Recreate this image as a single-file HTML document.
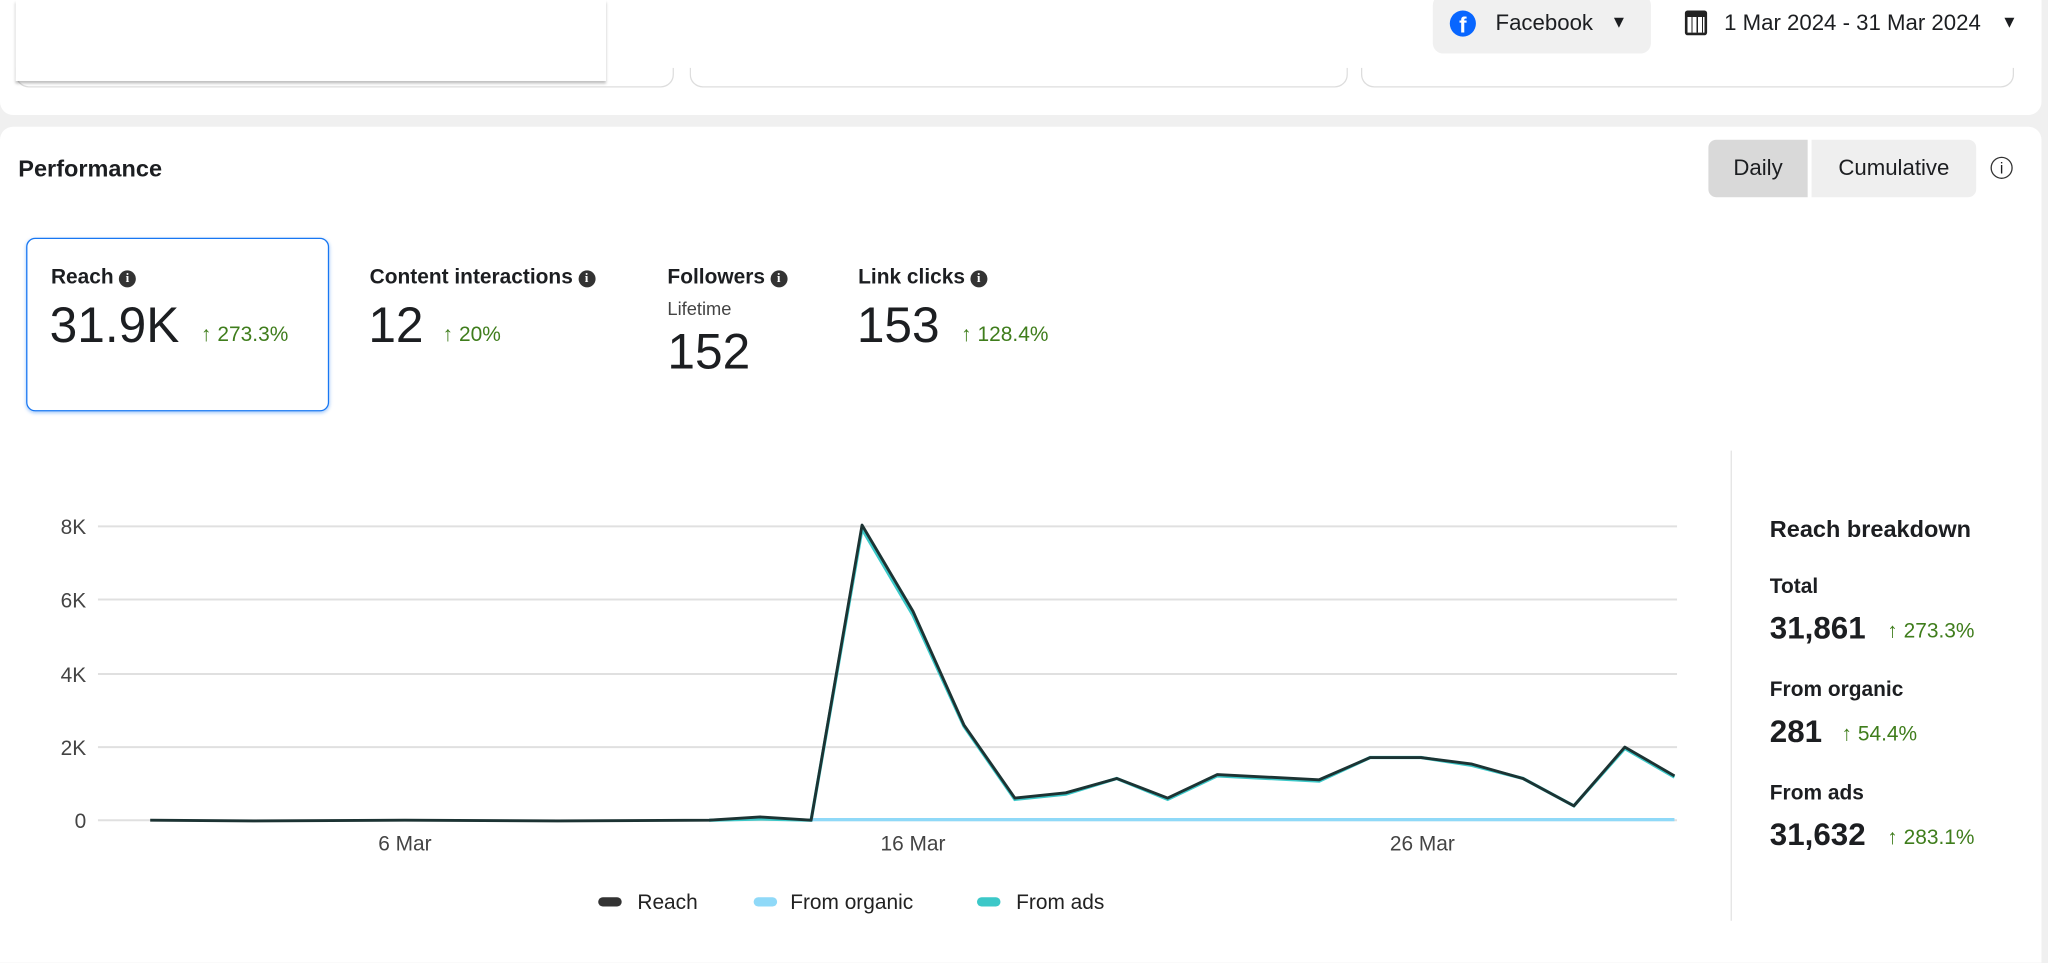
<!DOCTYPE html>
<html><head><meta charset="utf-8"><style>
html,body{margin:0;padding:0;width:2048px;height:935px;overflow:hidden;background:#f0f0f0;}
#w{position:absolute;left:0;top:0;width:1568px;height:716px;transform:scale(1.30612);transform-origin:0 0;font-family:"Liberation Sans",Arial,sans-serif;color:#1c1e21;background:#f0f0f0;}
.a{position:absolute;white-space:nowrap;}
.g{color:#3f7d1c;}
.b{font-weight:bold;}
.i{display:inline-block;width:13px;height:13px;border-radius:50%;background:#333;color:#fff;font-size:10px;line-height:13px;text-align:center;font-weight:bold;vertical-align:1px;margin-left:4px;font-family:"Liberation Serif",serif;}
</style></head><body><div id="w">
<div class="a" style="left:0;top:0;width:1563px;height:88px;background:#fff;border-radius:0 0 10px 10px;"></div>
<div class="a" style="left:12px;top:40px;width:502px;height:26px;border:1px solid #ddd;border-top:none;border-radius:0 0 10px 10px;"></div>
<div class="a" style="left:528px;top:40px;width:502px;height:26px;border:1px solid #ddd;border-top:none;border-radius:0 0 10px 10px;"></div>
<div class="a" style="left:1042px;top:40px;width:498px;height:26px;border:1px solid #ddd;border-top:none;border-radius:0 0 10px 10px;"></div>
<div class="a" style="left:0;top:0;width:1563px;height:52px;background:#fff;"></div>
<div class="a" style="left:12px;top:0;width:452px;height:62px;background:#fff;box-shadow:0 2px 2px rgba(0,0,0,0.25);"></div>
<div class="a" style="left:1097px;top:-4px;width:167px;height:45px;background:#f0f0f0;border-radius:8px;"></div>
<div class="a" style="left:1110px;top:8px;width:20px;height:20px;border-radius:50%;background:#0866ff;color:#fff;font-weight:bold;font-size:17px;line-height:23px;text-align:center;overflow:hidden;">f</div>
<div class="a" style="left:1145px;top:8px;font-size:17px;">Facebook</div>
<div class="a" style="left:1233px;top:9px;font-size:13px;">▼</div>
<div class="a" style="left:1290px;top:8px;width:17px;height:19px;border:2px solid #222;border-radius:2px;box-sizing:border-box;border-top-width:5px;background:repeating-linear-gradient(90deg,#fff 0 3px,#222 3px 4px);"></div>
<div class="a" style="left:1320px;top:8px;font-size:17px;">1 Mar 2024 - 31 Mar 2024</div>
<div class="a" style="left:1532px;top:9px;font-size:13px;">▼</div>
<div class="a" style="left:0;top:97px;width:1563px;height:640px;background:#fff;border-radius:10px 10px 0 0;"></div>
<div class="a b" style="left:14px;top:119px;font-size:18px;">Performance</div>
<div class="a" style="left:1308px;top:107px;width:76px;height:44px;background:#d9d9d9;border-radius:6px 0 0 6px;font-size:17px;line-height:44px;text-align:center;">Daily</div>
<div class="a" style="left:1387px;top:107px;width:126px;height:44px;background:#efefef;border-radius:0 6px 6px 0;font-size:17px;line-height:44px;text-align:center;">Cumulative</div>
<div class="a" style="left:1524px;top:120px;width:17px;height:17px;border:1.5px solid #333;border-radius:50%;font-size:12px;line-height:17px;text-align:center;box-sizing:border-box;">i</div>
<div class="a" style="left:20px;top:182px;width:230px;height:131px;border:1.5px solid #1877f2;border-radius:7px;box-shadow:0 1px 3px rgba(24,119,242,0.4);"></div>
<div class="a b" style="left:39px;top:204px;font-size:16px;">Reach<span class="i">i</span></div>
<div class="a" style="left:38px;top:229px;font-size:38px;">31.9K</div>
<div class="a g" style="left:154px;top:248px;font-size:16px;">↑ 273.3%</div>
<div class="a b" style="left:283px;top:204px;font-size:16px;">Content interactions<span class="i">i</span></div>
<div class="a" style="left:282px;top:229px;font-size:38px;">12</div>
<div class="a g" style="left:339px;top:248px;font-size:16px;">↑ 20%</div>
<div class="a b" style="left:511px;top:204px;font-size:16px;">Followers<span class="i">i</span></div>
<div class="a" style="left:511px;top:228px;font-size:14px;color:#444;">Lifetime</div>
<div class="a" style="left:511px;top:249px;font-size:38px;">152</div>
<div class="a b" style="left:657px;top:204px;font-size:16px;">Link clicks<span class="i">i</span></div>
<div class="a" style="left:656px;top:229px;font-size:38px;">153</div>
<div class="a g" style="left:736px;top:248px;font-size:16px;">↑ 128.4%</div>
<div class="a" style="left:1325px;top:345px;width:1px;height:360px;background:#e4e4e4;"></div>
<svg class="a" style="left:0;top:380px;" width="1300" height="330" viewBox="0 380 1300 330">
<g stroke="#e0e0e0" stroke-width="1.5">
<line x1="75" y1="403" x2="1284" y2="403"/><line x1="75" y1="459" x2="1284" y2="459"/><line x1="75" y1="516" x2="1284" y2="516"/><line x1="75" y1="572" x2="1284" y2="572"/><line x1="75" y1="628" x2="1284" y2="628"/></g>
<g font-family="Liberation Sans,Arial,sans-serif" font-size="16" fill="#444" text-anchor="end">
<text x="66" y="409">8K</text><text x="66" y="465">6K</text><text x="66" y="522">4K</text><text x="66" y="578">2K</text><text x="66" y="634">0</text></g>
<g font-family="Liberation Sans,Arial,sans-serif" font-size="16" fill="#444" text-anchor="middle">
<text x="310" y="651">6 Mar</text><text x="699" y="651">16 Mar</text><text x="1089" y="651">26 Mar</text></g>
<polyline fill="none" stroke="#3cc8c8" stroke-width="2.5" points="543,628 582,627 621,628 660,405 699,471 738,556 777,612 816,608 855,596 894,612 932,594 971,596 1010,598 1049,580 1088,580 1127,586 1166,596 1205,617 1244,573 1282,595"/>
<polyline fill="none" stroke="#8fd9f8" stroke-width="2.5" points="621,627.5 1282,627.5"/>
<polyline fill="none" stroke="#1c3333" stroke-width="2.2" stroke-linejoin="round" points="115,628 194,628.5 310,628 427,628.5 543,628 582,625.5 621,628 660,402 699,468 738,555 777,611 816,607 855,596 894,611 932,593 971,595 1010,597 1049,580 1088,580 1127,585 1166,596 1205,617 1244,572 1282,594"/>
<rect x="458" y="687" width="18" height="7" rx="3.5" fill="#333"/>
<rect x="577" y="687" width="18" height="7" rx="3.5" fill="#8fd9f8"/>
<rect x="748" y="687" width="18" height="7" rx="3.5" fill="#3cc8c8"/>
<g font-family="Liberation Sans,Arial,sans-serif" font-size="16" fill="#222">
<text x="488" y="696">Reach</text><text x="605" y="696">From organic</text><text x="778" y="696">From ads</text></g>
</svg>
<div class="a b" style="left:1355px;top:395px;font-size:18px;">Reach breakdown</div>
<div class="a b" style="left:1355px;top:441px;font-size:16px;">Total</div>
<div class="a b" style="left:1355px;top:468px;font-size:24px;">31,861</div>
<div class="a g" style="left:1445px;top:475px;font-size:16px;">↑ 273.3%</div>
<div class="a b" style="left:1355px;top:520px;font-size:16px;">From organic</div>
<div class="a b" style="left:1355px;top:547px;font-size:24px;">281</div>
<div class="a g" style="left:1410px;top:554px;font-size:16px;">↑ 54.4%</div>
<div class="a b" style="left:1355px;top:599px;font-size:16px;">From ads</div>
<div class="a b" style="left:1355px;top:626px;font-size:24px;">31,632</div>
<div class="a g" style="left:1445px;top:633px;font-size:16px;">↑ 283.1%</div>
</div></body></html>
